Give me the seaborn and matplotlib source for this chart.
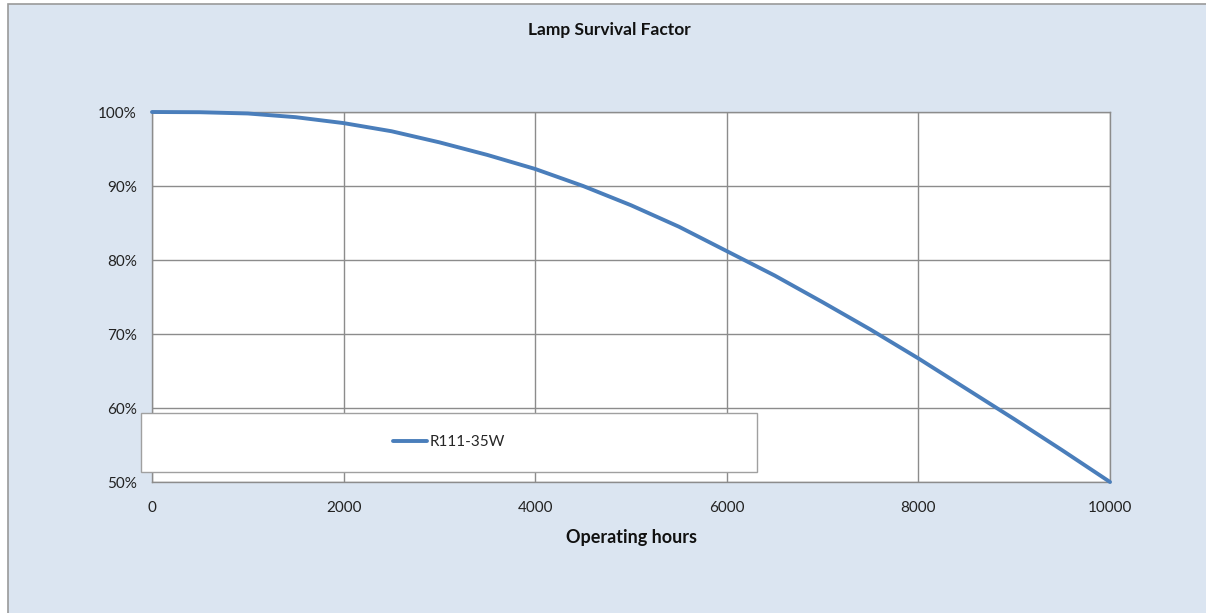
import matplotlib
matplotlib.use("Agg")
import matplotlib.pyplot as plt
from matplotlib.patches import Rectangle
from matplotlib.ticker import FuncFormatter
import seaborn as sns
import pandas as pd

# values
hours = [0, 500, 1000, 1500, 2000, 2500, 3000, 3500, 4000, 4500, 5000,
         5500, 6000, 6500, 7000, 7500, 8000, 8500, 9000, 9500, 10000]
survival = [100.0, 99.97, 99.8, 99.3, 98.5, 97.4, 95.9, 94.2, 92.3, 90.0, 87.4,
            84.5, 81.2, 77.9, 74.3, 70.6, 66.7, 62.6, 58.5, 54.3, 50.0]
series_name = "R111-35W"
x_ticks = [0, 2000, 4000, 6000, 8000, 10000]
y_ticks = [50, 60, 70, 80, 90, 100]

df = pd.DataFrame({"hours": hours, "survival": survival})

sns.set_theme(style="white")
plt.rcParams['font.family'] = ['Lato', 'DejaVu Sans']

W, H = 1206, 613
fig = plt.figure(figsize=(W / 100, H / 100), dpi=100, facecolor="white")

# chart-area background with its grey border
bg = Rectangle((8 / W, -0.01), 1.0, 1 - 4 / H + 0.01, transform=fig.transFigure,
               facecolor="#dbe5f1", edgecolor="#9a9a9a", linewidth=1.2, zorder=-10)
fig.patches.append(bg)

ax = fig.add_axes([152 / W, 1 - 482 / H, (1110 - 152) / W, (482 - 112) / H])
ax.set_facecolor("white")

sns.lineplot(data=df, x="hours", y="survival", ax=ax, color="#4a7ebb",
             linewidth=2.8, label=series_name, legend=False, clip_on=False, zorder=3)

ax.set_xlim(0, 10000)
ax.set_ylim(50, 100)
ax.set_xticks(x_ticks)
ax.set_yticks(y_ticks)
ax.yaxis.set_major_formatter(FuncFormatter(lambda v, p: f"{v:.0f}%"))
ax.grid(True, color="#8c8c8c", linewidth=1.0)
ax.set_axisbelow(True)
for s in ax.spines.values():
    s.set_color("#8c8c8c")
    s.set_linewidth(1.0)
ax.tick_params(axis="both", direction="out", length=5, width=1.0, color="#8c8c8c",
               labelsize=11, labelcolor="#222222", pad=6)
ax.tick_params(axis="x", pad=9)

ax.set_xlabel("Operating hours", fontsize=13, fontweight="bold", color="#111111", labelpad=10)
ax.set_ylabel("")
fig.text(0.5055, 1 - 30 / H, "Lamp Survival Factor", ha="center", va="center",
         fontsize=12.5, fontweight="bold", color="#111111")

# legend box sitting over the lower part of the plot area
lbox = Rectangle((141 / W, 1 - 472 / H), (757 - 141) / W, (472 - 413) / H,
                 transform=fig.transFigure, facecolor="white", edgecolor="#a0a0a0",
                 linewidth=1.0, zorder=5)
fig.patches.append(lbox)
handles, labels = ax.get_legend_handles_labels()
leg = fig.legend(handles, labels, loc="center", bbox_to_anchor=(449 / W, 1 - 442 / H),
                 frameon=False, fontsize=11, handlelength=2.2, handletextpad=0.2)
leg.set_zorder(6)

fig.savefig("out.png", dpi=100, facecolor=fig.get_facecolor())
